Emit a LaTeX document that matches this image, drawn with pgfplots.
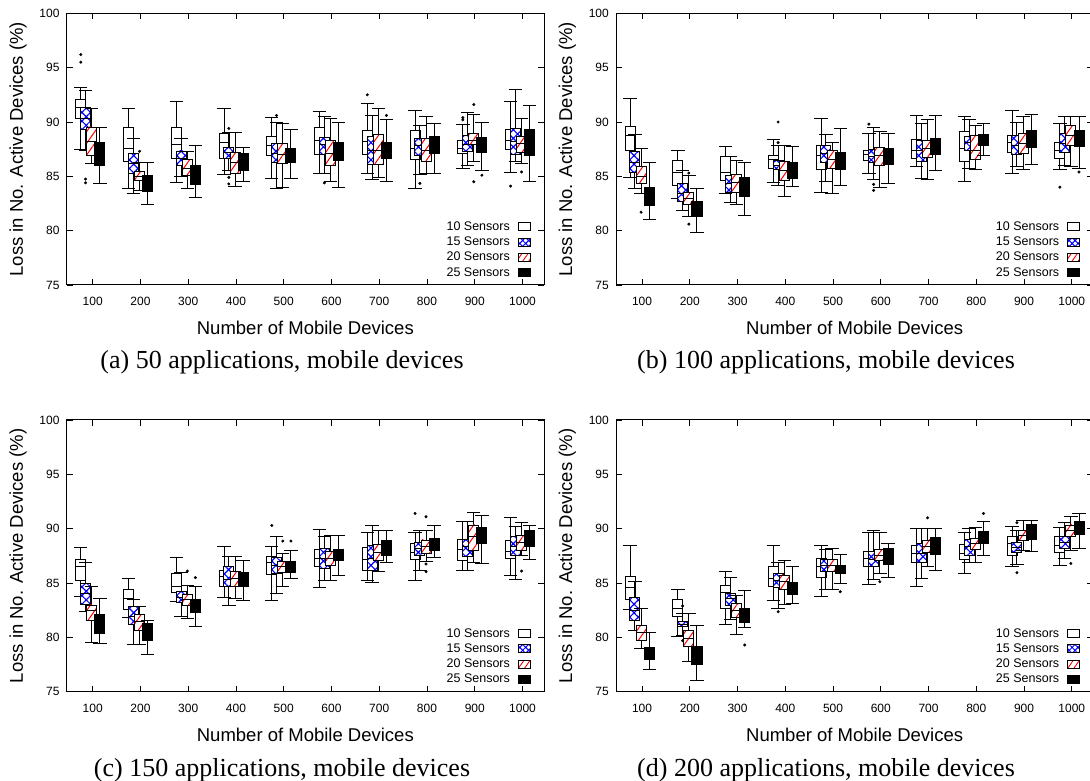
\documentclass[border=0pt]{standalone}
\usepackage{pgfplots}
\pgfplotsset{compat=1.18}
\usepgfplotslibrary{statistics}
\usetikzlibrary{patterns.meta}
\usepackage{fontspec}
\setmainfont{Liberation Sans}
\newfontfamily\capfont{Liberation Serif}

\pgfplotsset{
  bx/.style={black, line width=0.9pt, solid},
  sA/.style={bx, boxplot/every box/.style={draw=black, fill=white}},
  sB/.style={bx, boxplot/every box/.style={draw=black, fill=white,
      postaction={pattern={Hatch[angle=45,distance=6.1pt,line width=1.15pt]}, pattern color=blue},
      postaction={draw=black}}},
  sC/.style={bx, boxplot/every box/.style={draw=black, fill=white,
      postaction={pattern={Lines[angle=55,distance=6.7pt,line width=1pt]}, pattern color=red},
      postaction={draw=black}}},
  sD/.style={bx, boxplot/every box/.style={draw=black, fill=black}},
  myaxis/.style={
    scale only axis, width=477.3pt, height=271.7pt,
    xmin=45.5, xmax=1045, ymin=75, ymax=100,
    xtick={100,200,...,1000}, ytick={75,80,...,100},
    tick align=inside, major tick length=6pt,
    axis line style={line width=1pt},
    every tick/.style={black, line width=0.8pt},
    tick label style={font=\fontsize{12}{12}\selectfont},
    /pgf/number format/assume math mode=true,
    /pgf/number format/1000 sep={},
    xticklabel style={yshift=-8.5pt},
    yticklabel style={xshift=-3.7pt},
    xlabel={Number of Mobile Devices},
    ylabel={Loss in No. Active Devices (\%)},
    label style={font=\fontsize{18.5}{18.5}\selectfont},
    xlabel style={at={(axis description cs:0.5,0)}, anchor=base, yshift=-50pt},
    ylabel style={at={(axis description cs:-0.102,0.5)}, anchor=center},
    boxplot/draw direction=y,
    boxplot/box extend=21, boxplot/whisker extend=28,
    legend plot pos=right, legend cell align=right,
    legend style={draw=none, fill=none, at={(rel axis cs:1,0)}, anchor=south east,
      xshift=-13.3pt, yshift=5pt, font=\fontsize{12.5}{12.5}\selectfont, row sep=1.1pt,
      column sep=6pt, inner sep=0pt},
  },
  outl/.style={only marks, mark=*, mark size=1.3pt, black, forget plot},
}

\newcommand{\B}[7]{\addplot[#1, forget plot, boxplot/draw direction=y, boxplot prepared={draw position=#2, lower whisker=#3, lower quartile=#4, median=#5, upper quartile=#6, upper whisker=#7}] coordinates {};}

\newcommand{\legimgs}{%
  \addlegendimage{legend image code/.code={\draw[line width=0.9pt, fill=white] (0pt,-4pt) rectangle (11.7pt,4pt);}}
  \addlegendentry{10 Sensors}
  \addlegendimage{legend image code/.code={\draw[line width=0.9pt, fill=white, postaction={pattern={Hatch[angle=45,distance=4.2pt,line width=1pt]}, pattern color=blue}, postaction={draw=black}] (0pt,-4pt) rectangle (11.7pt,4pt);}}
  \addlegendentry{15 Sensors}
  \addlegendimage{legend image code/.code={\draw[line width=0.9pt, fill=white, postaction={pattern={Lines[angle=55,distance=5pt,line width=0.9pt]}, pattern color=red}, postaction={draw=black}] (0pt,-4pt) rectangle (11.7pt,4pt);}}
  \addlegendentry{20 Sensors}
  \addlegendimage{legend image code/.code={\draw[line width=0.9pt, fill=black] (0pt,-4pt) rectangle (11.7pt,4pt);}}
  \addlegendentry{25 Sensors}
}

\begin{document}
\begin{tikzpicture}

% ---------------- (a) ----------------
\begin{axis}[myaxis, at={(66.7pt,496pt)}, anchor=south west]
\legimgs
\B{sA}{75}{87.5}{90.3}{91.3}{92.1}{93.2}
\B{sA}{175}{83.9}{86.4}{87.6}{89.45}{91.2}
\B{sA}{275}{84.4}{86.65}{87.9}{89.5}{91.85}
\B{sA}{375}{85.2}{86.65}{88.1}{88.96}{91.2}
\B{sA}{475}{84.8}{86.9}{87.8}{88.7}{90.4}
\B{sA}{575}{85.3}{87.05}{88.3}{89.5}{90.98}
\B{sA}{675}{85.3}{87.05}{88.2}{89.26}{91.7}
\B{sA}{775}{83.9}{86.56}{87.57}{89.2}{91.1}
\B{sA}{875}{85.7}{87.1}{87.6}{88.3}{89.8}
\B{sA}{975}{85.4}{87.5}{88.3}{89.3}{91.9}
\B{sB}{85}{87.4}{89.3}{90.3}{91.35}{92.94}
\B{sB}{185}{83.4}{85.3}{86.2}{87.1}{88.5}
\B{sB}{285}{85.0}{86.0}{86.65}{87.33}{88.5}
\B{sB}{385}{85.5}{86.6}{87.2}{87.67}{89.0}
\B{sB}{485}{83.9}{86.3}{87.1}{87.98}{90.0}
\B{sB}{585}{85.3}{87.05}{87.9}{88.6}{90.55}
\B{sB}{685}{84.7}{86.1}{87.4}{88.7}{90.6}
\B{sB}{785}{85.2}{86.9}{87.8}{88.5}{89.7}
\B{sB}{885}{86.0}{87.33}{87.9}{88.75}{90.9}
\B{sB}{985}{86.35}{87.05}{88.2}{89.4}{92.95}
\B{sC}{98}{86.2}{86.93}{88.2}{89.54}{91.26}
\B{sC}{198}{83.7}{84.66}{85.0}{85.45}{86.3}
\B{sC}{298}{83.9}{85.06}{85.7}{86.56}{87.3}
\B{sC}{398}{84.1}{85.3}{86.3}{87.18}{89.05}
\B{sC}{498}{84.0}{86.2}{87.05}{88.04}{89.88}
\B{sC}{598}{84.5}{86.0}{87.1}{88.3}{90.3}
\B{sC}{698}{84.9}{86.13}{87.4}{88.83}{91.26}
\B{sC}{798}{85.3}{86.4}{87.4}{88.5}{90.55}
\B{sC}{898}{86.35}{87.97}{88.3}{88.9}{90.7}
\B{sC}{998}{86.2}{87.2}{88.0}{88.7}{90.3}
\B{sD}{115}{84.3}{85.98}{87.0}{88.1}{89.5}
\B{sD}{215}{82.4}{83.6}{84.4}{85.1}{86.3}
\B{sD}{315}{83.1}{84.26}{85.1}{86.0}{87.8}
\B{sD}{415}{84.5}{85.5}{86.3}{87.1}{87.7}
\B{sD}{515}{84.8}{86.3}{86.9}{87.6}{89.3}
\B{sD}{615}{84.0}{86.44}{87.3}{88.1}{89.94}
\B{sD}{715}{84.5}{86.65}{87.4}{88.1}{90.25}
\B{sD}{815}{85.3}{87.1}{87.9}{88.7}{89.9}
\B{sD}{915}{85.5}{87.2}{87.9}{88.6}{90.0}
\B{sD}{1015}{84.5}{86.93}{88.1}{89.3}{91.56}
\addplot[outl] coordinates {(75,95.5)(75,96.2)(85,84.75)(85,84.4)(198,87.3)(385,89.4)(385,84.9)(385,84.3)(485,90.6)(585,84.4)(675,92.5)(715,90.6)(785,84.35)(875,90.4)(875,90.2)(898,91.6)(898,84.5)(915,85.1)(975,84.1)(998,85.4)};
\end{axis}

% ---------------- (b) ----------------
\begin{axis}[myaxis, at={(616pt,496pt)}, anchor=south west]
\legimgs
\B{sA}{75}{84.9}{87.36}{88.8}{89.57}{92.18}
\B{sA}{175}{83.0}{84.14}{85.37}{86.44}{87.36}
\B{sA}{275}{83.44}{84.66}{85.4}{86.8}{87.73}
\B{sA}{375}{84.4}{85.74}{86.56}{86.96}{88.4}
\B{sA}{475}{83.5}{85.64}{86.96}{87.8}{90.34}
\B{sA}{575}{85.3}{86.44}{87.05}{87.4}{88.9}
\B{sA}{675}{85.95}{86.66}{87.42}{88.4}{90.64}
\B{sA}{775}{84.5}{86.38}{87.57}{89.1}{90.55}
\B{sA}{875}{85.3}{87.18}{88.1}{88.8}{91.1}
\B{sA}{975}{85.64}{86.66}{87.42}{88.1}{89.88}
\B{sB}{85}{83.9}{85.37}{86.3}{87.27}{88.86}
\B{sB}{185}{81.9}{82.67}{83.44}{84.36}{85.58}
\B{sB}{285}{82.58}{83.5}{84.36}{85.12}{86.87}
\B{sB}{385}{84.2}{85.64}{86.04}{86.5}{87.88}
\B{sB}{485}{84.5}{86.3}{87.1}{87.8}{88.86}
\B{sB}{585}{84.75}{86.3}{86.87}{87.48}{89.48}
\B{sB}{685}{84.8}{86.35}{87.42}{88.34}{89.88}
\B{sB}{785}{85.74}{87.36}{88.1}{88.7}{90.25}
\B{sB}{885}{85.95}{87.05}{87.82}{88.8}{90.0}
\B{sB}{985}{86.04}{87.2}{88.0}{88.96}{90.5}
\B{sC}{98}{83.44}{84.3}{84.97}{85.89}{87.6}
\B{sC}{198}{81.35}{82.45}{83.0}{83.53}{85.06}
\B{sC}{298}{82.45}{83.53}{84.4}{85.2}{86.5}
\B{sC}{398}{83.13}{84.66}{85.58}{86.35}{87.88}
\B{sC}{498}{83.4}{85.74}{86.56}{87.4}{88.1}
\B{sC}{598}{84.0}{85.98}{86.96}{87.67}{89.1}
\B{sC}{698}{84.75}{86.72}{87.57}{88.34}{90.25}
\B{sC}{798}{85.64}{86.56}{87.42}{88.8}{89.72}
\B{sC}{898}{85.64}{87.1}{88.0}{88.96}{90.5}
\B{sC}{998}{85.9}{87.88}{88.8}{89.66}{90.5}
\B{sD}{115}{81.04}{82.3}{83.1}{83.96}{86.3}
\B{sD}{215}{79.85}{81.35}{82.0}{82.67}{83.9}
\B{sD}{315}{81.44}{83.13}{84.0}{84.9}{86.26}
\B{sD}{415}{84.05}{84.8}{85.58}{86.3}{87.73}
\B{sD}{515}{84.2}{85.64}{86.4}{87.18}{89.36}
\B{sD}{615}{84.3}{86.13}{86.87}{87.58}{88.96}
\B{sD}{715}{85.58}{87.02}{87.7}{88.5}{90.6}
\B{sD}{815}{86.96}{87.82}{88.34}{88.86}{89.88}
\B{sD}{915}{86.13}{87.64}{88.5}{89.26}{90.7}
\B{sD}{1015}{85.74}{87.73}{88.5}{89.26}{90.5}
\addplot[outl] coordinates {(98,81.7)(198,85.3)(198,80.6)(385,90.0)(385,88.1)(575,89.8)(585,84.26)(585,83.7)(975,84.0)(1015,85.4)};
\end{axis}

% ---------------- (c) ----------------
\begin{axis}[myaxis, at={(66.7pt,89.3pt)}, anchor=south west]
\legimgs
\B{sA}{75}{83.74}{85.2}{86.5}{87.18}{88.28}
\B{sA}{175}{81.8}{82.6}{83.6}{84.42}{85.43}
\B{sA}{275}{83.28}{84.14}{84.66}{85.9}{87.33}
\B{sA}{375}{83.68}{84.72}{85.58}{86.2}{88.34}
\B{sA}{475}{83.44}{85.83}{86.9}{87.42}{88.4}
\B{sA}{575}{84.57}{86.56}{87.27}{88.1}{89.94}
\B{sA}{675}{85.28}{86.2}{87.18}{88.25}{89.63}
\B{sA}{775}{85.2}{87.18}{87.8}{88.6}{89.63}
\B{sA}{875}{86.2}{87.05}{88.1}{89.0}{90.64}
\B{sA}{975}{85.74}{87.27}{87.94}{88.9}{91.04}
\B{sB}{85}{82.36}{83.07}{84.0}{84.97}{86.9}
\B{sB}{185}{79.39}{81.23}{81.96}{82.8}{83.5}
\B{sB}{285}{81.9}{83.2}{83.68}{84.26}{85.95}
\B{sB}{385}{82.9}{84.66}{85.33}{86.5}{87.48}
\B{sB}{485}{84.05}{85.9}{86.66}{87.36}{89.33}
\B{sB}{585}{85.28}{86.35}{87.27}{88.19}{89.26}
\B{sB}{685}{85.06}{86.2}{87.27}{88.44}{90.34}
\B{sB}{785}{86.2}{87.52}{88.2}{88.74}{89.88}
\B{sB}{885}{86.2}{87.48}{88.34}{89.0}{90.64}
\B{sB}{985}{85.33}{87.58}{88.34}{89.26}{90.18}
\B{sC}{98}{79.54}{81.6}{82.45}{82.98}{84.66}
\B{sC}{198}{79.39}{80.67}{81.44}{82.1}{82.8}
\B{sC}{298}{81.75}{82.9}{83.5}{83.96}{84.8}
\B{sC}{398}{83.6}{84.66}{85.43}{86.04}{87.42}
\B{sC}{498}{84.72}{85.98}{86.5}{86.96}{87.73}
\B{sC}{598}{85.28}{86.6}{87.27}{87.88}{89.42}
\B{sC}{698}{86.04}{87.05}{87.8}{88.56}{89.82}
\B{sC}{798}{86.96}{87.73}{88.34}{88.96}{89.82}
\B{sC}{898}{86.9}{88.04}{89.26}{90.34}{91.5}
\B{sC}{998}{87.58}{88.04}{88.7}{89.36}{90.55}
\B{sD}{115}{79.45}{80.37}{81.3}{82.15}{83.6}
\B{sD}{215}{78.44}{79.7}{80.5}{81.3}{81.6}
\B{sD}{315}{80.98}{82.27}{82.9}{83.5}{84.72}
\B{sD}{415}{83.37}{84.66}{85.33}{85.98}{87.05}
\B{sD}{515}{85.43}{85.98}{86.5}{86.96}{88.04}
\B{sD}{615}{85.67}{87.05}{87.58}{88.1}{89.42}
\B{sD}{715}{86.87}{87.52}{88.25}{88.96}{89.82}
\B{sD}{815}{87.33}{88.04}{88.6}{89.1}{90.34}
\B{sD}{915}{86.8}{88.65}{89.42}{90.12}{91.2}
\B{sD}{1015}{87.18}{88.34}{89.1}{89.82}{90.34}
\addplot[outl] coordinates {(475,90.3)(775,91.4)(298,86.1)(315,85.5)(498,88.86)(515,88.86)(798,91.1)(798,86.75)(798,86.04)(998,86.1)};
\end{axis}

% ---------------- (d) ----------------
\begin{axis}[myaxis, at={(616pt,89.3pt)}, anchor=south west]
\legimgs
\B{sA}{75}{82.58}{83.5}{84.57}{85.58}{88.5}
\B{sA}{175}{80.12}{81.96}{82.67}{83.5}{84.45}
\B{sA}{275}{81.2}{82.67}{84.1}{84.82}{86.04}
\B{sA}{375}{83.44}{84.72}{85.43}{86.5}{88.5}
\B{sA}{475}{83.8}{85.52}{86.56}{87.27}{88.5}
\B{sA}{575}{84.9}{86.5}{87.27}{87.88}{89.66}
\B{sA}{675}{84.66}{86.87}{87.73}{88.5}{90.03}
\B{sA}{775}{85.9}{87.18}{87.73}{88.56}{89.66}
\B{sA}{875}{86.5}{87.58}{88.6}{89.33}{90.25}
\B{sA}{975}{86.66}{87.82}{88.5}{89.26}{90.12}
\B{sB}{85}{80.67}{81.53}{82.5}{83.68}{85.12}
\B{sB}{185}{80.2}{80.98}{81.23}{81.5}{82.2}
\B{sB}{285}{81.66}{82.98}{83.6}{84.05}{85.5}
\B{sB}{385}{82.67}{84.57}{85.28}{85.9}{86.87}
\B{sB}{485}{84.45}{86.1}{86.66}{87.18}{88.1}
\B{sB}{585}{85.33}{86.56}{87.18}{87.88}{89.82}
\B{sB}{685}{85.43}{86.87}{87.73}{88.6}{90.03}
\B{sB}{785}{86.87}{87.58}{88.34}{89.0}{90.03}
\B{sB}{885}{86.75}{87.8}{88.28}{88.7}{89.88}
\B{sB}{985}{87.27}{88.2}{88.7}{89.26}{90.55}
\B{sC}{98}{78.99}{79.7}{80.43}{81.07}{82.67}
\B{sC}{198}{77.76}{79.2}{79.9}{80.67}{82.2}
\B{sC}{298}{80.3}{81.84}{82.5}{83.13}{83.9}
\B{sC}{398}{83.07}{84.45}{85.12}{85.74}{87.12}
\B{sC}{498}{84.42}{86.04}{86.6}{87.18}{88.2}
\B{sC}{598}{85.9}{87.12}{87.58}{88.1}{89.66}
\B{sC}{698}{86.5}{87.82}{88.4}{88.96}{90.03}
\B{sC}{798}{86.87}{88.1}{88.65}{89.1}{90.12}
\B{sC}{898}{88.04}{88.96}{89.42}{89.82}{90.8}
\B{sC}{998}{88.04}{89.26}{89.8}{90.34}{91.17}
\B{sD}{115}{77.06}{77.98}{78.5}{79.08}{80.43}
\B{sD}{215}{76.07}{77.55}{78.37}{79.14}{81.13}
\B{sD}{315}{80.9}{81.4}{82.06}{82.67}{84.3}
\B{sD}{415}{83.13}{83.96}{84.5}{85.06}{86.56}
\B{sD}{515}{84.97}{85.9}{86.26}{86.66}{87.67}
\B{sD}{615}{85.5}{86.75}{87.48}{88.2}{88.65}
\B{sD}{715}{86.2}{87.64}{88.4}{89.2}{90.03}
\B{sD}{815}{87.58}{88.6}{89.17}{89.72}{90.64}
\B{sD}{915}{87.88}{89.0}{89.72}{90.43}{90.8}
\B{sD}{1015}{88.2}{89.5}{90.1}{90.64}{91.4}
\addplot[outl] coordinates {(185,82.9)(185,79.7)(385,82.36)(885,90.55)(885,85.95)(998,86.8)(598,85.12)(698,91.0)(815,91.4)(315,79.3)(515,84.2)};
\end{axis}

\node[anchor=base, font=\capfont\fontsize{26}{26}\selectfont] at (282pt,412pt) {(a) 50 applications, mobile devices};
\node[anchor=base, font=\capfont\fontsize{26}{26}\selectfont] at (826pt,412pt) {(b) 100 applications, mobile devices};
\node[anchor=base, font=\capfont\fontsize{26}{26}\selectfont] at (282pt,4pt) {(c) 150 applications, mobile devices};
\node[anchor=base, font=\capfont\fontsize{26}{26}\selectfont] at (826pt,4pt) {(d) 200 applications, mobile devices};

\pgfresetboundingbox
\useasboundingbox (0pt,0pt) rectangle (1090pt,781pt);
\end{tikzpicture}
\end{document}
